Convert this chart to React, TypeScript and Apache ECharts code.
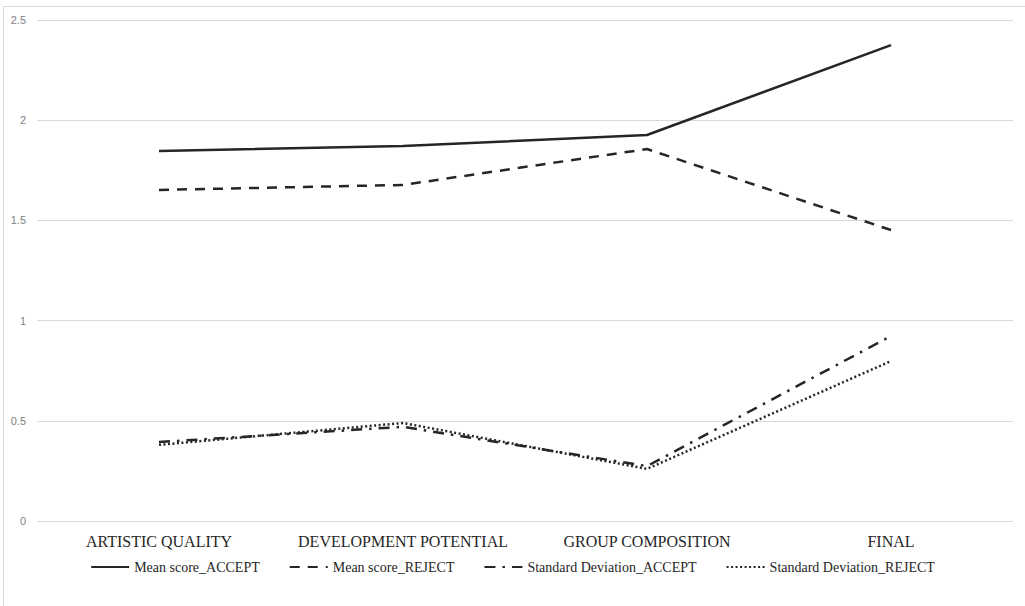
import React, { useEffect, useRef } from "react";
import * as echarts from "echarts";

const categories = ["ARTISTIC QUALITY", "DEVELOPMENT POTENTIAL", "GROUP COMPOSITION", "FINAL"];
const meanAccept = [1.846, 1.871, 1.926, 2.375];
const meanReject = [1.652, 1.677, 1.856, 1.452];
const sdAccept = [0.394, 0.47, 0.274, 0.923];
const sdReject = [0.38, 0.489, 0.26, 0.798];

const ink = "#262626";
const frame = "#d9d9d9";

export default function App() {
  const ref = useRef<HTMLDivElement>(null);

  useEffect(() => {
    document.body.style.margin = "0";
    const chart = echarts.init(ref.current!, null, { renderer: "svg" });
    const mk = (name: string, data: number[], type: any) => ({
      name,
      type: "line",
      data,
      symbol: "none",
      showSymbol: false,
      lineStyle: { color: ink, width: 2.5, type, cap: "butt" },
      itemStyle: { color: ink },
    });
    chart.setOption({
      animation: false,
      graphic: [
        {
          type: "line",
          shape: { x1: 3.5, y1: 6.5, x2: 1025, y2: 6.5 },
          style: { stroke: frame, lineWidth: 1 },
          silent: true,
        },
        {
          type: "line",
          shape: { x1: 3.5, y1: 6.5, x2: 3.5, y2: 606 },
          style: { stroke: frame, lineWidth: 1 },
          silent: true,
        },
      ],
      grid: { left: 37, right: 12, top: 20, bottom: 85 },
      xAxis: {
        type: "category",
        data: categories,
        boundaryGap: true,
        axisLine: { show: false },
        axisTick: { show: false },
        axisLabel: {
          interval: 0,
          margin: 12,
          color: ink,
          fontFamily: "Liberation Serif",
          fontSize: 16,
        },
      },
      yAxis: {
        type: "value",
        min: 0,
        max: 2.5,
        interval: 0.5,
        axisLine: { show: false },
        axisTick: { show: false },
        splitLine: { lineStyle: { color: frame, width: 1 } },
        axisLabel: {
          margin: 11,
          color: "#7f7f7f",
          fontFamily: "Liberation Sans",
          fontSize: 11,
        },
      },
      legend: {
        bottom: 27,
        left: "center",
        itemWidth: 38,
        itemHeight: 10,
        itemGap: 29,
        itemStyle: { opacity: 0 },
        textStyle: { color: ink, fontFamily: "Liberation Serif", fontSize: 14 },
        data: [
          "Mean score_ACCEPT",
          "Mean score_REJECT",
          "Standard Deviation_ACCEPT",
          "Standard Deviation_REJECT",
        ],
      },
      series: [
        mk("Mean score_ACCEPT", meanAccept, "solid"),
        mk("Mean score_REJECT", meanReject, [10, 8]),
        mk("Standard Deviation_ACCEPT", sdAccept, [11, 7, 2.5, 7]),
        mk("Standard Deviation_REJECT", sdReject, [2, 2.5]),
      ],
    });
    return () => chart.dispose();
  }, []);

  return <div ref={ref} style={{ width: 1025, height: 606 }} />;
}
